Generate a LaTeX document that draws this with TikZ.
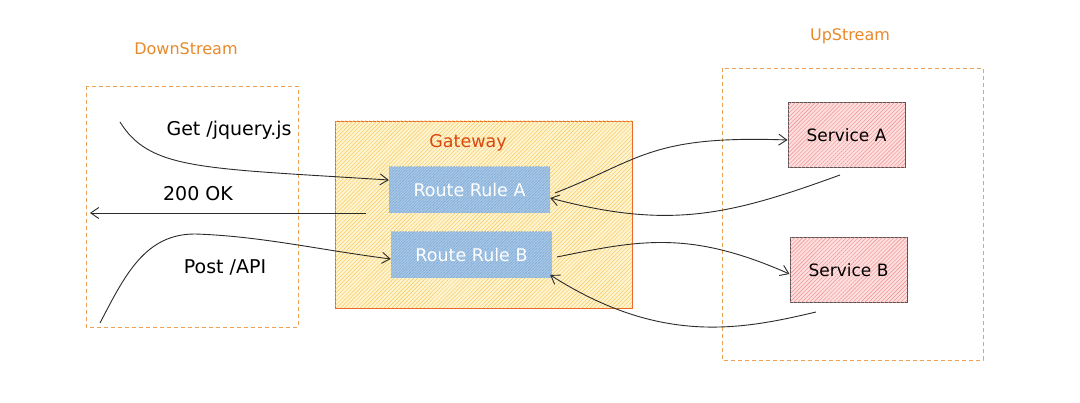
\documentclass[tikz,border=0pt]{standalone}
\usepackage{fontspec}
\setmainfont{DejaVu Sans}
\usetikzlibrary{arrows.meta,patterns.meta}
\definecolor{orangelbl}{HTML}{E8892B}
\definecolor{gwborder}{HTML}{E8692C}
\definecolor{gwtext}{HTML}{D9480F}
\definecolor{gwfill}{HTML}{FFF4D0}
\definecolor{gwhatch}{HTML}{F7C85A}
\definecolor{rrfill}{HTML}{ABCBEA}
\definecolor{rrhatch}{HTML}{6F9FCF}
\definecolor{svfill}{HTML}{FFDEDE}
\definecolor{svhatch}{HTML}{EC8A8A}
\definecolor{svborder}{HTML}{555555}
\definecolor{lnk}{HTML}{2B2B2B}
\tikzset{
  x=1pt,y=-1pt,
  zone/.style={draw=orangelbl!80,dashed,dash pattern=on 4pt off 3pt,line width=0.8pt},
  zonelbl/.style={text=orangelbl,font=\fontsize{16}{18}\selectfont},
  gwbox/.style={draw=gwborder,line width=0.9pt,fill=gwfill,
    postaction={pattern={Lines[angle=45,distance=2.8pt,line width=0.45pt]},pattern color=gwhatch}},
  rrbox/.style={fill=rrfill,text=white,font=\fontsize{17.5}{20}\selectfont,
    postaction={pattern={Lines[angle=45,distance=2pt,line width=0.4pt]},pattern color=rrhatch},
    postaction={pattern={Lines[angle=-45,distance=2pt,line width=0.4pt]},pattern color=rrhatch!70}},
  svbox/.style={draw=svborder,line width=1pt,fill=svfill,font=\fontsize{17}{19}\selectfont,
    postaction={pattern={Lines[angle=45,distance=2.8pt,line width=0.4pt]},pattern color=svhatch}},
  lbl/.style={font=\fontsize{19}{21}\selectfont,text=black},
  link/.style={draw=lnk,line width=0.9pt,-{Straight Barb[length=8pt,width=11pt]}},
}
\begin{document}
\begin{tikzpicture}
\useasboundingbox (0,0) rectangle (1080,403);
\fill[white] (0,0) rectangle (1080,403);
% zones
\node[zonelbl] (dsl) at (186,49) {DownStream};
\node[zonelbl] (usl) at (850,36) {UpStream};
\draw[zone] (86,86) rectangle (298,327);
\draw[zone] (722,68) rectangle (983,360);
% gateway
\draw[gwbox] (335,121) rectangle (632,308);
\node[text=gwtext,font=\fontsize{17.5}{19}\selectfont] (gwl) at (468,143) {Gateway};
\node[rrbox,minimum width=161pt,minimum height=46pt,inner sep=0pt] (ra) at (469.5,190) {Route Rule A};
\node[rrbox,minimum width=161pt,minimum height=46pt,inner sep=0pt] (rb) at (471.5,255) {Route Rule B};
% services
\node[svbox,minimum width=117pt,minimum height=65pt,inner sep=0pt] (sa) at (846.5,135.5) {Service A};
\node[svbox,minimum width=117pt,minimum height=65pt,inner sep=0pt] (sb) at (848.5,270.5) {Service B};
% free ends
\coordinate (g0) at (120,122);
\coordinate (ok0) at (366,213);
\coordinate (ok1) at (90,213);
\coordinate (p0) at (100,323);
\coordinate (ra0) at (555,193);
\coordinate (sa0) at (840,175);
\coordinate (rb0) at (557,257);
\coordinate (sb0) at (816,312);
% labels
\node[lbl] (gl) at (229,130) {Get /jquery.js};
\node[lbl] (okl) at (198,194) {200 OK};
\node[lbl] (pl) at (225,267) {Post /API};
% connectors
\draw[link] (g0) .. controls (150,170) and (200,168) .. (ra.west |- 0,180);
\draw[link] (ok0) -- (ok1);
\draw[link] (p0) .. controls (125,275) and (145,234) .. (195,234) .. controls (260,236) and (320,250) .. (rb.west |- 0,259);
\draw[link] (ra0) .. controls (640,160) and (650,135) .. (sa.west |- 0,140);
\draw[link] (sa0) .. controls (730,215) and (670,230) .. (ra.east |- 0,198);
\draw[link] (rb0) .. controls (640,240) and (690,230) .. (sb.west |- 0,274);
\draw[link] (sb0) .. controls (740,330) and (660,345) .. (ra.east |- 0,275);
\end{tikzpicture}
\end{document}
